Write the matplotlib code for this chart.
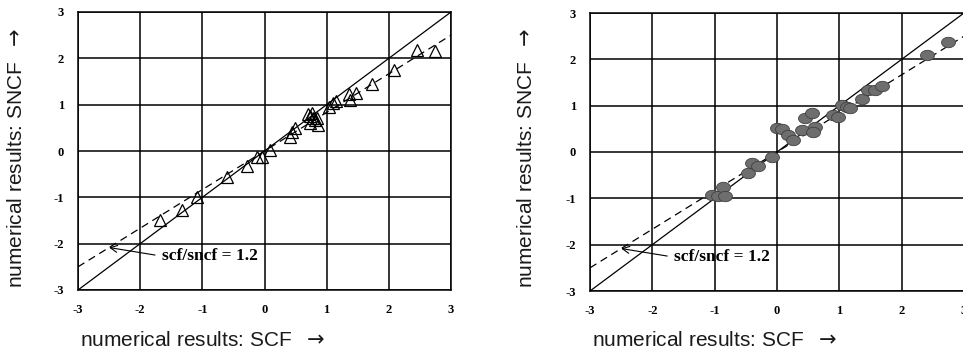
import numpy as np
import matplotlib
matplotlib.use("Agg")
import matplotlib.pyplot as plt
from matplotlib.path import Path

# SCF vs SNCF results, triangles (left panel)
scf_tri = [-1.68, -1.33, -1.09, -0.60, -0.28, -0.12, -0.04, 0.09,
           0.41, 0.45, 0.49, 0.70, 0.73, 0.76, 0.81, 0.84, 0.86, 0.73, 0.78,
           1.03, 1.10, 1.15, 1.36, 1.38, 1.47, 1.73, 2.08, 2.45, 2.74]
sncf_tri = [-1.49, -1.27, -0.99, -0.56, -0.33, -0.12, -0.13, 0.02,
            0.30, 0.42, 0.50, 0.80, 0.75, 0.82, 0.67, 0.71, 0.57, 0.60, 0.72,
            0.96, 1.03, 1.08, 1.23, 1.10, 1.25, 1.45, 1.75, 2.18, 2.16]

# SCF vs SNCF results, filled blobs (right panel)
scf_dot = [-1.04, -0.95, -0.87, -0.83, -0.46, -0.40, -0.30, -0.08,
           0.00, 0.08, 0.18, 0.26, 0.40, 0.45, 0.56, 0.61, 0.58,
           0.90, 0.98, 1.04, 1.12, 1.17, 1.36, 1.46, 1.57, 1.69, 2.41, 2.75]
sncf_dot = [-0.93, -0.95, -0.76, -0.95, -0.46, -0.24, -0.30, -0.11,
            0.52, 0.49, 0.36, 0.26, 0.47, 0.73, 0.84, 0.54, 0.43,
            0.80, 0.75, 1.01, 0.97, 0.94, 1.14, 1.34, 1.34, 1.42, 2.09, 2.37]

ticks = [-3, -2, -1, 0, 1, 2, 3]
ratio = 1.2
ratio_label = "scf/sncf = 1.2"
xlabel = r"numerical results: SCF  $\rightarrow$"
ylabel = r"numerical results: SNCF  $\rightarrow$"

W, H = 963, 353
fig = plt.figure(figsize=(W / 100, H / 100), dpi=100)

# horizontally stretched ellipse marker
t = np.linspace(0, 2 * np.pi, 40)
ellipse = Path(np.column_stack([np.cos(t), 0.75 * np.sin(t)]), closed=True)

def panel(rect, xs, ys, kind):
    ax = fig.add_axes(rect)
    ax.set_xlim(-3, 3)
    ax.set_ylim(-3, 3)
    ax.set_xticks(ticks)
    ax.set_yticks(ticks)
    ax.set_xticklabels([str(v) for v in ticks])
    ax.set_yticklabels([str(v) for v in ticks])
    ax.grid(True, color="black", lw=1.1)
    ax.set_axisbelow(True)
    for s in ax.spines.values():
        s.set_color("black")
        s.set_linewidth(1.1)
    ax.tick_params(length=0, labelsize=9, pad=10)
    for lab in ax.get_xticklabels() + ax.get_yticklabels():
        lab.set_fontfamily("Liberation Serif")
        lab.set_fontweight("bold")
    line = np.array([-3, 3])
    ax.plot(line, line, color="black", lw=0.9)
    ax.plot(line, line / ratio, color="black", lw=0.9, ls=(0, (6, 4)))
    if kind == "tri":
        ax.plot(xs, ys, ls="none", marker="^", ms=9, mfc="none",
                mec="black", mew=0.9)
    else:
        ax.plot(xs, ys, ls="none", marker=ellipse, ms=10, mfc="#6e6e6e",
                mec="#404040", mew=0.6)
    ax.annotate(ratio_label, xy=(-2.5, -2.5 / ratio), xytext=(-1.65, -2.27),
                fontsize=12.5, fontweight="bold", family="Liberation Serif",
                va="center", ha="left",
                arrowprops=dict(arrowstyle="->", color="black", lw=0.8,
                                shrinkA=3, shrinkB=0,
                                relpos=(0, 0.5)))
    return ax

panel([78 / W, 1 - 290 / H, 373 / W, 278 / H], scf_tri, sncf_tri, "tri")
panel([590 / W, 1 - 291 / H, 374 / W, 278 / H], scf_dot, sncf_dot, "dot")

for x0, xl in [(80, 17), (592, 527)]:
    fig.text(x0 / W, 1 - 340 / H, xlabel, fontsize=15,
             family="Liberation Sans", color="#1a1a1a", ha="left",
             va="center")
    fig.text(xl / W, 1 - 158 / H, ylabel, fontsize=15, rotation=90,
             family="Liberation Sans", color="#1a1a1a", ha="center",
             va="center")

fig.savefig("out.png", dpi=100, facecolor="white")
